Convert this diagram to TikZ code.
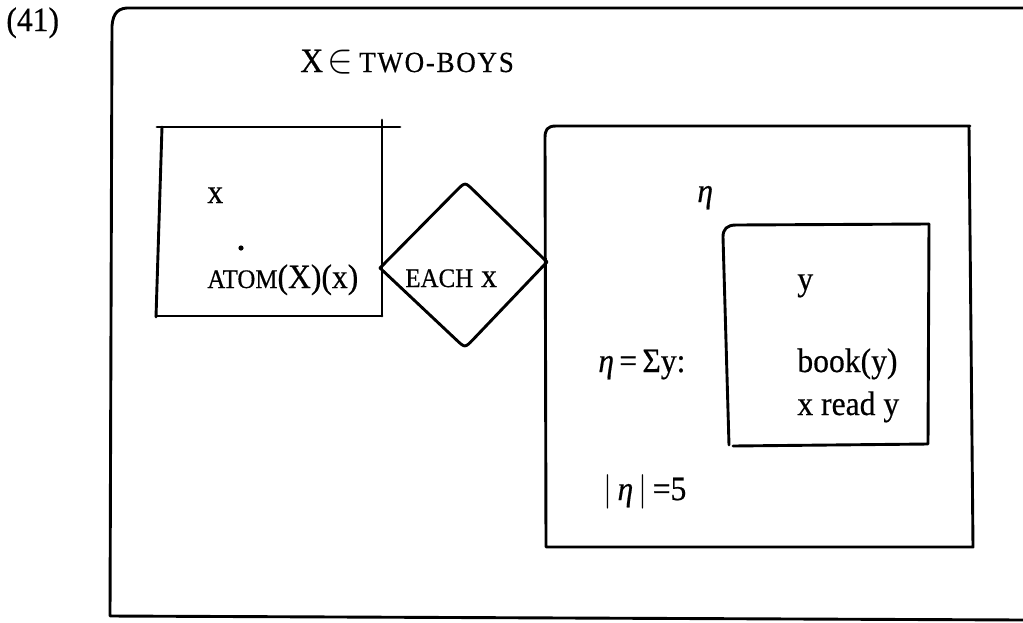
\documentclass[tikz,border=0pt]{standalone}
\usepackage{fontspec}
\setmainfont{Liberation Serif}[FakeBold=0.5]
\begin{document}
\begin{tikzpicture}[x=0.5pt,y=-0.5pt,
  box/.style={line width=1.45pt,line cap=round,line join=round},
  lab/.style={anchor=base west,inner sep=0pt,font=\fontsize{17}{20}\selectfont,xscale=0.93,transform shape}]
\newcommand{\fsc}[1]{{\fontsize{13.4}{16}\selectfont #1}}
\newcommand{\wsc}[1]{{\fontsize{14.6}{17}\selectfont\addfontfeature{LetterSpace=6}#1}}
\newcommand{\bigin}{{\fontsize{21}{24}\selectfont$\in$}}
\useasboundingbox (0,0) rectangle (1023,622);
% outer box
\draw[box] (1023,8) -- (132,8) .. controls (118,7) and (113,13) .. (112,26) -- (110,616) -- (1023,620);
% left box
\draw[box] (157,127) -- (400,127);
\draw[box] (162,127) -- (156,317);
\draw[box] (156,316) -- (382,316);
\draw[box] (382,120) -- (382,316);
% diamond
\draw[box] (380,268) -- (456.6,190.5) .. controls (465,182) .. (473.6,190.4)
  -- (547,262) -- (473.3,339.3) .. controls (465,348) .. (456.3,339.8) -- cycle;
% right box
\draw[box] (970,126) -- (556,126) .. controls (547,126) and (545,130) .. (545,138) -- (546,547) -- (973,547) -- (969,126);
% inner box
\draw[box] (929,224) -- (736,225) .. controls (727,225) and (723,229) .. (723,237) -- (729,445);
\draw[box] (733,446) -- (928,444) -- (929,224);
% texts
\node[lab] (num) at (6,31) {(41)};
\node[lab] (set) at (300,72) {X\kern2.5pt\bigin\kern3pt\wsc{TWO-BOYS}};
\node[lab] (x1) at (207,203) {x};
\fill (241,248) circle (1.3pt);
\node[lab] (atom) at (207,288) {\fsc{ATOM}(X)(x)};
\node[lab] (each) at (405,287) {\fsc{EACH} x};
\node[lab] (eta) at (697,202) {\textit{η}};
\node[lab] (y1) at (797,290) {y};
\node[lab] (book) at (797,372) {book(y)};
\node[lab] (read) at (797,415) {x read y};
\node[lab] (sum) at (598,372) {\textit{η}\,=\,Σy:};
\node[lab] (card) at (603,500) {$\bigl|$\,\textit{η}\,$\bigr|$\,=5};
\end{tikzpicture}
\end{document}
